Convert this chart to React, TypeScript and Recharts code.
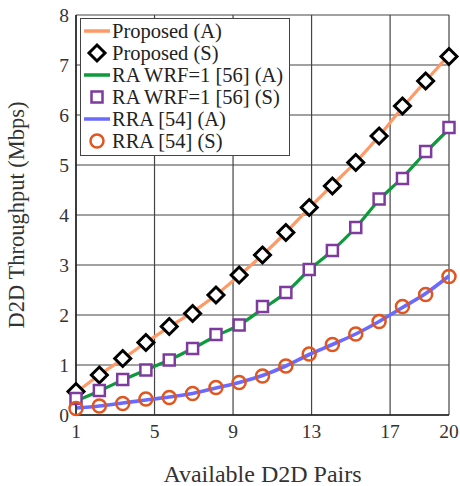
import { CartesianGrid, ComposedChart, Line, XAxis, YAxis } from "recharts"

// x positions of the 17 sampled points
const pairs = [1, 2.19, 3.38, 4.56, 5.75, 6.94, 8.13, 9.31, 10.5, 11.69, 12.88, 14.06, 15.25, 16.44, 17.63, 18.81, 20]

const proposedA = [0.45, 0.8, 1.12, 1.45, 1.76, 2.06, 2.4, 2.79, 3.2, 3.65, 4.14, 4.6, 5.06, 5.58, 6.15, 6.68, 7.2]
const proposedS = [0.47, 0.8, 1.13, 1.45, 1.77, 2.03, 2.4, 2.8, 3.2, 3.65, 4.15, 4.58, 5.05, 5.58, 6.18, 6.68, 7.17]
const raA = [0.28, 0.48, 0.7, 0.9, 1.1, 1.33, 1.58, 1.8, 2.12, 2.45, 2.9, 3.29, 3.75, 4.3, 4.75, 5.25, 5.72]
const raS = [0.33, 0.49, 0.71, 0.9, 1.1, 1.33, 1.61, 1.8, 2.17, 2.45, 2.91, 3.29, 3.75, 4.32, 4.73, 5.27, 5.75]
const rraA = [0.14, 0.18, 0.24, 0.3, 0.36, 0.43, 0.54, 0.65, 0.79, 0.98, 1.21, 1.41, 1.62, 1.87, 2.15, 2.43, 2.78]
const rraS = [0.13, 0.18, 0.23, 0.32, 0.35, 0.43, 0.55, 0.65, 0.78, 0.98, 1.22, 1.41, 1.62, 1.87, 2.17, 2.41, 2.77]

const xTicks = [1, 5, 9, 13, 17, 20]
const yTicks = [0, 1, 2, 3, 4, 5, 6, 7, 8]

const data = pairs.map((x, i) => ({
  x,
  propA: proposedA[i],
  propS: proposedS[i],
  raA: raA[i],
  raS: raS[i],
  rraA: rraA[i],
  rraS: rraS[i],
}))

const FONT = "'Liberation Serif', 'Times New Roman', serif"
const ORANGE = "#ff9966"
const GREEN = "#0d9a3a"
const BLUE = "#6a6aff"
const PURPLE = "#7e3a9e"
const RED = "#e0561e"

const Diamond = (props: any) => {
  const { cx, cy } = props
  if (cx == null || cy == null) return null
  const r = 8
  return (
    <path
      d={`M${cx},${cy - r}L${cx + r},${cy}L${cx},${cy + r}L${cx - r},${cy}Z`}
      fill="#fff"
      stroke="#000"
      strokeWidth={3}
    />
  )
}

const Square = (props: any) => {
  const { cx, cy } = props
  if (cx == null || cy == null) return null
  return <rect x={cx - 5.5} y={cy - 5.5} width={11} height={11} fill="#fff" stroke={PURPLE} strokeWidth={2.5} />
}

const Circle = (props: any) => {
  const { cx, cy } = props
  if (cx == null || cy == null) return null
  return <circle cx={cx} cy={cy} r={6.5} fill="none" stroke={RED} strokeWidth={2.5} />
}

const legendItems = [
  { label: "Proposed (A)", kind: "line", color: ORANGE },
  { label: "Proposed (S)", kind: "diamond", color: "#000" },
  { label: "RA WRF=1 [56] (A)", kind: "line", color: GREEN },
  { label: "RA WRF=1 [56] (S)", kind: "square", color: PURPLE },
  { label: "RRA [54] (A)", kind: "line", color: BLUE },
  { label: "RRA [54] (S)", kind: "circle", color: RED },
]

function LegendBox() {
  return (
    <div
      style={{
        position: "absolute",
        left: 80,
        top: 18,
        background: "#fff",
        border: "1.5px solid #444",
        width: 208,
        padding: "1px 0 3px 0",
        fontFamily: FONT,
        fontSize: 20.5,
        color: "#222",
      }}
    >
      {legendItems.map((it) => (
        <div key={it.label} style={{ display: "flex", alignItems: "center", height: 22 }}>
          <svg width={30} height={22} style={{ marginLeft: 1 }}>
            {it.kind === "line" && <line x1={2} x2={28} y1={11} y2={11} stroke={it.color} strokeWidth={3.5} />}
            {it.kind === "diamond" && <Diamond cx={15} cy={11} />}
            {it.kind === "square" && <Square cx={15} cy={11} />}
            {it.kind === "circle" && <Circle cx={15} cy={11} />}
          </svg>
          <span style={{ whiteSpace: "nowrap", lineHeight: "22px" }}>{it.label}</span>
        </div>
      ))}
    </div>
  )
}

export default function App() {
  return (
    <div style={{ position: "absolute", left: 0, top: 0, width: 460, height: 486, background: "#fff" }}>
      <ComposedChart
        width={460}
        height={486}
        data={data}
        margin={{ top: 15, right: 11, bottom: 0, left: 0 }}
      >
        <CartesianGrid stroke="#444" strokeWidth={1.2} horizontalValues={yTicks} verticalValues={xTicks} />
        <XAxis
          dataKey="x"
          type="number"
          domain={[1, 20]}
          ticks={xTicks}
          interval={0}
          height={71}
          tickLine={false}
          tickSize={0}
          tickMargin={9}
          axisLine={{ stroke: "#222", strokeWidth: 1.5 }}
          tick={{ fontFamily: FONT, fontSize: 19.5, fill: "#333" }}
          label={{
            value: "Available D2D Pairs",
            position: "insideBottom",
            offset: 4,
            style: { fontFamily: FONT, fontSize: 24, fill: "#333" },
          }}
        />
        <XAxis
          xAxisId="top"
          orientation="top"
          dataKey="x"
          type="number"
          domain={[1, 20]}
          ticks={xTicks}
          height={0}
          tick={false}
          tickLine={false}
          axisLine={{ stroke: "#222", strokeWidth: 1.5 }}
        />
        <YAxis
          type="number"
          domain={[0, 8]}
          ticks={yTicks}
          interval={0}
          width={76}
          tickLine={false}
          tickSize={0}
          tickMargin={7}
          axisLine={{ stroke: "#222", strokeWidth: 1.5 }}
          tick={{ fontFamily: FONT, fontSize: 19.5, fill: "#333" }}
          label={{
            value: "D2D Throughput (Mbps)",
            angle: -90,
            position: "insideLeft",
            offset: 16,
            style: { fontFamily: FONT, fontSize: 22.5, fill: "#333", textAnchor: "middle" },
          }}
        />
        <YAxis
          yAxisId="right"
          orientation="right"
          type="number"
          domain={[0, 8]}
          width={0}
          tick={false}
          tickLine={false}
          axisLine={{ stroke: "#222", strokeWidth: 1.5 }}
        />
        <Line dataKey="propA" type="monotone" stroke={ORANGE} strokeWidth={3.2} dot={false} isAnimationActive={false} />
        <Line dataKey="raA" type="monotone" stroke={GREEN} strokeWidth={3.2} dot={false} isAnimationActive={false} />
        <Line dataKey="rraA" type="monotone" stroke={BLUE} strokeWidth={3.6} dot={false} isAnimationActive={false} />
        <Line dataKey="propS" stroke="none" dot={<Diamond />} activeDot={false} isAnimationActive={false} />
        <Line dataKey="raS" stroke="none" dot={<Square />} activeDot={false} isAnimationActive={false} />
        <Line dataKey="rraS" stroke="none" dot={<Circle />} activeDot={false} isAnimationActive={false} />
      </ComposedChart>
      <LegendBox />
    </div>
  )
}
